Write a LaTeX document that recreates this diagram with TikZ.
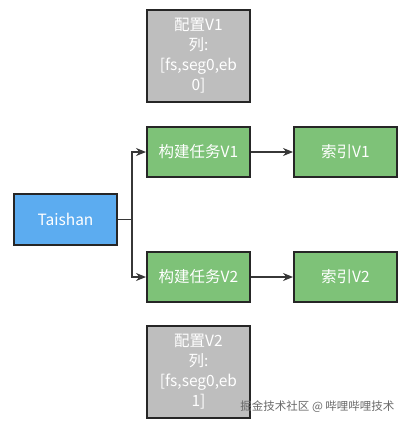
\documentclass[tikz,border=0pt]{standalone}
\usepackage{fontspec}
\setmainfont{Noto Sans CJK SC}
\usetikzlibrary{arrows.meta,positioning}
\definecolor{cfggray}{RGB}{190,190,190}
\definecolor{taskgreen}{RGB}{126,194,120}
\definecolor{rootblue}{RGB}{92,172,240}
\definecolor{edgedark}{RGB}{38,38,38}
\definecolor{linedark}{RGB}{55,55,55}
\definecolor{markgray}{RGB}{105,105,105}

\begin{document}
\begin{tikzpicture}[x=1pt,y=-1pt,font=\fontsize{15.5}{20}\selectfont,
box/.style={draw=edgedark,line width=2pt,text=white,align=center,minimum width=103pt,minimum height=50pt,inner sep=2pt},
cfg/.style={box,fill=cfggray,minimum height=92pt},
task/.style={box,fill=taskgreen},
root/.style={box,fill=rootblue,minimum height=51pt},
arr/.style={-{Stealth[length=10pt,width=8pt]},line width=1.2pt,draw=linedark}]

\useasboundingbox(0,0)rectangle(408,425);
\node[cfg](cfg1)at(198.5,56){配置V1\\列:\\{[}fs,seg0,eb\\0{]}};
\node[task](task1)at(198.5,152){构建任务V1};
\node[task](idx1)at(345.5,152){索引V1};
\node[root](root)at(65.5,219.5){Taishan};
\node[task](task2)at(198.5,277){构建任务V2};
\node[task](idx2)at(345.5,277){索引V2};
\node[cfg](cfg2)at(198.5,371.5){配置V2\\列:\\{[}fs,seg0,eb\\1{]}};
\coordinate(fork)at(132,219.5);
\draw[arr](root.east)--(fork)|-(task1.west);
\draw[arr](fork)|-(task2.west);
\draw[arr](task1)--(idx1);
\draw[arr](task2)--(idx2);
\node[font=\fontsize{11.5}{14}\selectfont,text=markgray,anchor=east](mark)at(398,407){掘金技术社区 @ 哔哩哔哩技术};
\end{tikzpicture}
\end{document}
